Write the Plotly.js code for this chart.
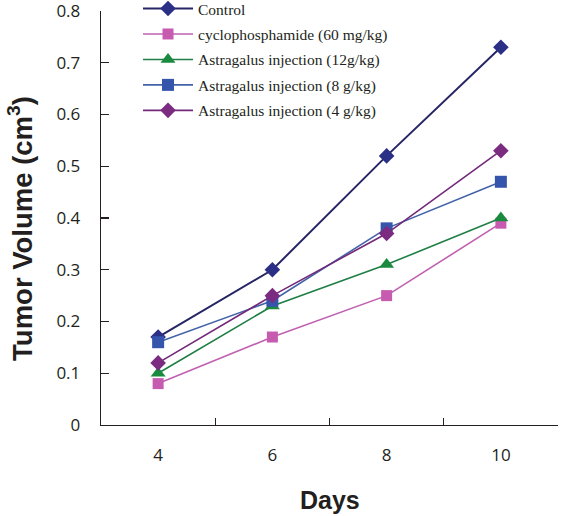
<!DOCTYPE html>
<html><head><meta charset="utf-8">
<script src="https://cdn.plot.ly/plotly-3.0.1.min.js"></script>
<style>html,body{margin:0;padding:0;background:#fff}#chart{width:562px;height:516px}</style>
</head><body><div id="chart"></div>
<script>
const days = ["4", "6", "8", "10"];
const seriesNames = ["Control", "cyclophosphamide (60 mg/kg)", "Astragalus injection (12g/kg)", "Astragalus injection (8 g/kg)", "Astragalus injection (4 g/kg)"];
const control = [0.17, 0.30, 0.52, 0.73];
const cyclophosphamide = [0.08, 0.17, 0.25, 0.39];
const astragalus12 = [0.10, 0.23, 0.31, 0.40];
const astragalus8 = [0.16, 0.24, 0.38, 0.47];
const astragalus4 = [0.12, 0.25, 0.37, 0.53];
const yTickVals = [0, 0.1, 0.2, 0.3, 0.4, 0.5, 0.6, 0.7, 0.8];
const yTickText = ["0", "0.1", "0.2", "0.3", "0.4", "0.5", "0.6", "0.7", "0.8"];

const styles = [
  {line: "#262565", marker: "#2B2F86", symbol: "diamond", size: 12, width: 2},
  {line: "#C060B0", marker: "#C65BB0", symbol: "square", size: 11, width: 1.6},
  {line: "#1F7F45", marker: "#1A8A3F", symbol: "triangle-up", size: 13, width: 1.6},
  {line: "#4263A8", marker: "#3554AC", symbol: "square", size: 12, width: 1.6},
  {line: "#73297A", marker: "#7B2B80", symbol: "diamond", size: 12, width: 1.6}
];
const allData = [control, cyclophosphamide, astragalus12, astragalus8, astragalus4];

const traces = allData.map((vals, i) => ({
  x: days, y: vals, name: seriesNames[i], type: "scatter", mode: "lines+markers",
  legendgroup: "g" + i,
  line: {color: styles[i].line, width: styles[i].width},
  marker: {color: styles[i].marker, symbol: styles[i].symbol, size: styles[i].size, line: {width: 0}}
}));

const layout = {
  width: 562, height: 516,
  margin: {l: 101, r: 4, t: 11, b: 91, autoexpand: false},
  paper_bgcolor: "#fff", plot_bgcolor: "#fff",
  showlegend: true,
  legend: {
    x: 0.081, y: 1.046, xanchor: "left", yanchor: "top",
    bgcolor: "rgba(0,0,0,0)", borderwidth: 0,
    font: {family: "Liberation Serif, Times New Roman, serif", size: 15.5, color: "#231f20"},
    tracegroupgap: 2.3, itemwidth: 50
  },
  xaxis: {
    type: "category", range: [-0.5, 3.5], tickson: "boundaries",
    ticks: "inside", ticklen: 7, tickcolor: "#231f20", tickwidth: 1.3,
    showline: true, linecolor: "#231f20", linewidth: 1.3, showgrid: false, zeroline: false,
    tickfont: {family: "Open Sans, DejaVu Sans, sans-serif", size: 17, color: "#231f20"},
    ticklabelstandoff: 14, fixedrange: true
  },
  yaxis: {
    range: [0, 0.8], tickvals: yTickVals, ticktext: yTickText,
    ticks: "inside", ticklen: 8, tickcolor: "#231f20", tickwidth: 1.3,
    showline: true, linecolor: "#231f20", linewidth: 1.3, showgrid: false, zeroline: false,
    tickfont: {family: "Open Sans, DejaVu Sans, sans-serif", size: 17, color: "#231f20"},
    ticklabelstandoff: 16, ticklabeloverflow: "allow", fixedrange: true
  },
  annotations: [
    {text: "Days", xref: "paper", yref: "paper", x: 0.5, y: -0.18, xanchor: "center", yanchor: "middle",
     showarrow: false, font: {family: "Liberation Sans, Arial, sans-serif", size: 25, color: "#231f20", weight: "bold"}},
    {text: "Tumor Volume (cm<sup>3</sup>)", xref: "paper", yref: "paper", x: -0.176, y: 0.475, xanchor: "center", yanchor: "middle",
     textangle: -90, showarrow: false, font: {family: "Liberation Sans, Arial, sans-serif", size: 27.5, color: "#231f20", weight: "bold"}}
  ]
};
Plotly.newPlot("chart", traces, layout, {displayModeBar: false, staticPlot: true});
</script></body></html>
